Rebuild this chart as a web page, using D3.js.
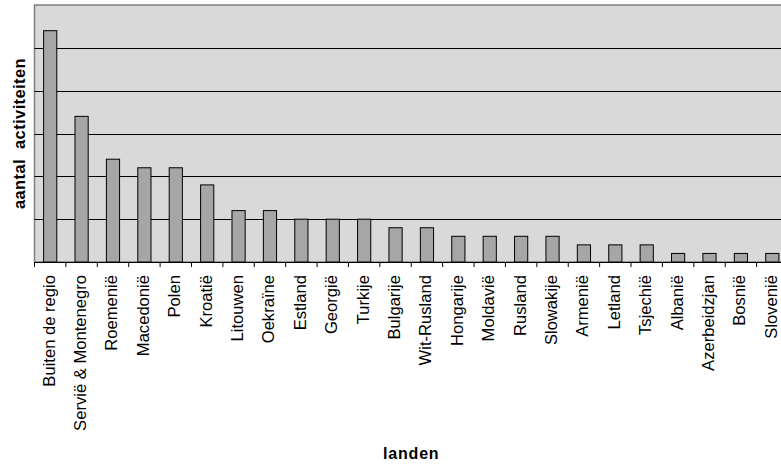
<!DOCTYPE html>
<html><head><meta charset="utf-8">
<script src="https://cdn.jsdelivr.net/npm/d3@7"></script>
<style>
html,body{margin:0;padding:0;background:#fff;}
svg{display:block;font-family:"Liberation Sans",Arial,sans-serif;}
</style></head>
<body>
<svg id="chart" width="781" height="467"></svg>
<script>
const categories = ["Buiten de regio","Servië & Montenegro","Roemenië","Macedonië","Polen","Kroatië","Litouwen","Oekraïne","Estland","Georgië","Turkije","Bulgarije","Wit-Rusland","Hongarije","Moldavië","Rusland","Slowakije","Armenië","Letland","Tsjechië","Albanië","Azerbeidzjan","Bosnië","Slovenië"];
const values = [27,17,12,11,11,9,6,6,5,5,5,4,4,3,3,3,3,2,2,2,1,1,1,1];
const yTicks = [5,10,15,20,25];
const yMax = 30;
const xTitle = "landen";
const yTitle = "aantal  activiteiten";

const svg = d3.select("#chart");
const pLeft = 34.5, pRight = 788, pTop = 5, pBottom = 262;

const x = d3.scaleBand().domain(categories).range([pLeft, pRight]).padding(0);
const y = d3.scaleLinear().domain([0, yMax]).range([pBottom, pTop]);

// plot background
svg.append("rect").attr("x", pLeft).attr("y", pTop)
  .attr("width", pRight - pLeft).attr("height", pBottom - pTop)
  .attr("fill", "#d9d9d9").attr("stroke", "#808080").attr("stroke-width", 1.5);

// gridlines
svg.append("g").selectAll("line").data(yTicks).join("line")
  .attr("x1", pLeft).attr("x2", pRight)
  .attr("y1", d => Math.round(y(d)) + 0.5).attr("y2", d => Math.round(y(d)) + 0.5)
  .attr("stroke", "#000").attr("stroke-width", 1);

// bars
const bw = x.bandwidth() * 0.42;
svg.append("g").selectAll("rect").data(values).join("rect")
  .attr("x", (d, i) => x(categories[i]) + (x.bandwidth() - bw) / 2)
  .attr("y", d => y(d))
  .attr("width", bw)
  .attr("height", d => pBottom - y(d))
  .attr("fill", "#a6a6a6").attr("stroke", "#000").attr("stroke-width", 1);

// x axis (labels)
const xAxis = d3.axisBottom(x).tickSize(0).tickPadding(0);
const gx = svg.append("g").attr("transform", `translate(0,${pBottom})`).call(xAxis);
gx.select(".domain").remove();
gx.selectAll(".tick text")
  .attr("transform", "rotate(-90)")
  .attr("x", -13).attr("y", 0).attr("dy", "4.5px")
  .attr("text-anchor", "end")
  .attr("font-family", "Liberation Sans, Arial, sans-serif")
  .attr("font-size", 16.6).attr("fill", "#000");

// baseline and boundary ticks
svg.append("line").attr("x1", pLeft).attr("x2", pRight)
  .attr("y1", pBottom + 0.5).attr("y2", pBottom + 0.5)
  .attr("stroke", "#000").attr("stroke-width", 1);
svg.append("g").selectAll("line").data(categories).join("line")
  .attr("x1", d => x(d)).attr("x2", d => x(d))
  .attr("y1", pBottom).attr("y2", pBottom + 5)
  .attr("stroke", "#000").attr("stroke-width", 1);

// titles
svg.append("text").attr("x", (pLeft + pRight) / 2).attr("y", 459)
  .attr("text-anchor", "middle").attr("font-weight", "bold")
  .attr("font-size", 16).attr("letter-spacing", "0.8px").text(xTitle);
svg.append("text").attr("transform", `translate(25,${(pTop + pBottom) / 2}) rotate(-90)`)
  .attr("text-anchor", "middle").attr("font-weight", "bold")
  .attr("font-size", 16.5).attr("letter-spacing", "0.4px")
  .attr("xml:space", "preserve").style("white-space", "pre").text(yTitle);
</script>
</body></html>
